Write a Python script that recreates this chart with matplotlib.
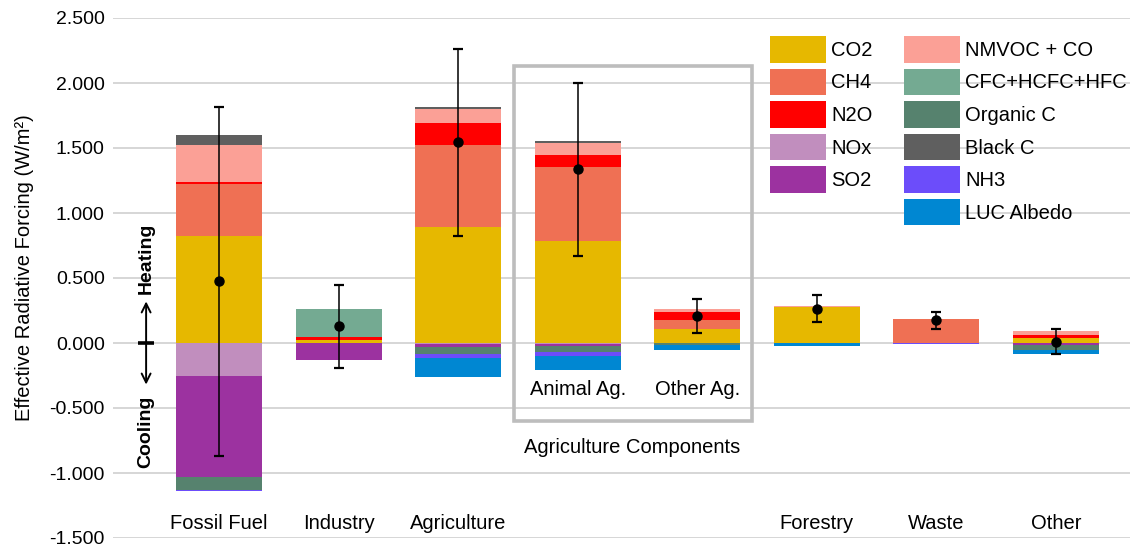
import numpy as np
import matplotlib
matplotlib.use('Agg')
import matplotlib.pyplot as plt
from matplotlib.patches import Patch, Rectangle

plt.rcParams['font.family'] = ['Liberation Sans', 'DejaVu Sans']

# sectors (Animal Ag. and Other Ag. are the split of Agriculture)
categories = ['Fossil Fuel', 'Industry', 'Agriculture', 'Animal Ag.',
              'Other Ag.', 'Forestry', 'Waste', 'Other']

# effective radiative forcing by species, W/m2
co2 = [0.825, 0.023, 0.892, 0.788, 0.109, 0.277, 0.0, 0.037]
ch4 = [0.398, 0.0, 0.631, 0.564, 0.066, 0.0, 0.181, 0.0]
n2o = [0.012, 0.020, 0.167, 0.098, 0.067, 0.0, 0.0, 0.021]
nmvoc = [0.287, 0.005, 0.108, 0.090, 0.023, 0.010, 0.004, 0.033]
cfc = [0.0, 0.214, 0.0, 0.0, 0.0, 0.0, 0.0, 0.0]
black_c = [0.079, 0.0, 0.015, 0.012, 0.0, 0.0, 0.0, 0.005]
nox = [-0.254, 0.0, -0.010, -0.008, 0.0, 0.0, 0.0, 0.0]
so2 = [-0.775, -0.134, -0.017, -0.012, 0.0, 0.0, 0.0, -0.015]
organic_c = [-0.102, 0.0, -0.058, -0.050, -0.012, 0.0, 0.0, -0.042]
nh3 = [-0.008, 0.0, -0.028, -0.031, 0.0, 0.0, -0.004, 0.0]
luc_albedo = [0.0, 0.0, -0.148, -0.110, -0.042, -0.020, 0.0, -0.025]

# net forcing with uncertainty range
net = [0.475, 0.128, 1.548, 1.342, 0.210, 0.265, 0.178, 0.009]
net_low = [-0.867, -0.190, 0.825, 0.673, 0.075, 0.165, 0.110, -0.086]
net_high = [1.815, 0.448, 2.262, 2.000, 0.337, 0.366, 0.242, 0.106]

yticks = [-1.5, -1.0, -0.5, 0.0, 0.5, 1.0, 1.5, 2.0, 2.5]

colors = {
    'CO2': '#E6B800', 'CH4': '#EF7054', 'N2O': '#FF0000',
    'NOx': '#C18EBE', 'SO2': '#9C32A0', 'NMVOC + CO': '#FBA096',
    'CFC+HCFC+HFC': '#74AA92', 'Organic C': '#56826E',
    'Black C': '#5F5F5F', 'NH3': '#6C4DFA', 'LUC Albedo': '#0087D2',
}

positive = [('CO2', co2), ('CH4', ch4), ('N2O', n2o), ('NMVOC + CO', nmvoc),
            ('CFC+HCFC+HFC', cfc), ('Black C', black_c)]
negative = [('NOx', nox), ('SO2', so2), ('Organic C', organic_c),
            ('NH3', nh3), ('LUC Albedo', luc_albedo)]

fig = plt.figure(figsize=(11.34, 5.47), dpi=100)
ax = fig.add_axes([113 / 1134, 9 / 547, 1017 / 1134, 520 / 547])

x = np.arange(len(categories))
w = 0.72

bottom = np.zeros(len(x))
for name, vals in positive:
    vals = np.array(vals)
    ax.bar(x, vals, w, bottom=bottom, color=colors[name], zorder=2)
    bottom += vals
bottom = np.zeros(len(x))
for name, vals in negative:
    vals = np.array(vals)
    ax.bar(x, vals, w, bottom=bottom, color=colors[name], zorder=2)
    bottom += vals

net = np.array(net)
err = [net - np.array(net_low), np.array(net_high) - net]
ax.errorbar(x, net, yerr=err, fmt='o', color='black', ms=6.5,
            elinewidth=1.1, capsize=3.5, capthick=1.6, zorder=5)

ax.set_ylim(-1.5, 2.5)
ax.set_xlim(-0.887, 7.62)
ax.set_yticks(yticks)
ax.set_yticklabels([f'{v:.3f}' for v in yticks], fontsize=14)
ax.tick_params(axis='y', length=0, pad=6)
ax.set_xticks([])
ax.yaxis.grid(True, color='#CFCFCF', lw=1.2, zorder=0)
ax.set_axisbelow(True)
for s in ax.spines.values():
    s.set_visible(False)

ax.set_ylabel('Effective Radiative Forcing (W/m²)', fontsize=14.5)
ax.yaxis.set_label_coords(-0.078, 0.52)

# sector labels
for i, lab in enumerate(categories):
    if i in (3, 4):
        ax.text(i, -0.36, lab, ha='center', va='center', fontsize=14.5)
    else:
        ax.text(i, -1.392, lab, ha='center', va='center', fontsize=14.5)

# box around the agriculture split
ax.add_patch(Rectangle((2.469, -0.602), 4.46 - 2.469, 2.134 + 0.602,
                       fill=False, edgecolor='#BDBDBD', lw=2.6, zorder=4))
ax.text(3.456, -0.805, 'Agriculture Components', ha='center', va='center',
        fontsize=14.5)

# heating / cooling marker
xa = -0.61
ax.annotate('', xy=(xa, 0.32), xytext=(xa, -0.32),
            arrowprops=dict(arrowstyle='<->', color='black', lw=1.4,
                            mutation_scale=16, shrinkA=0, shrinkB=0),
            annotation_clip=False)
ax.plot([xa - 0.066, xa + 0.066], [0, 0], color='black', lw=2.6,
        solid_capstyle='butt', clip_on=False, zorder=6)
ax.text(xa, 0.65, 'Heating', rotation=90, ha='center', va='center',
        fontsize=14, fontweight='bold')
ax.text(xa, -0.68, 'Cooling', rotation=90, ha='center', va='center',
        fontsize=14, fontweight='bold')

# legend, two columns with a blank slot under SO2
order = ['CO2', 'CH4', 'N2O', 'NOx', 'SO2', None,
         'NMVOC + CO', 'CFC+HCFC+HFC', 'Organic C', 'Black C', 'NH3',
         'LUC Albedo']
handles = []
for name in order:
    if name is None:
        handles.append(Patch(facecolor='none', edgecolor='none', label=' '))
    else:
        handles.append(Patch(facecolor=colors[name], label=name))
ax.legend(handles=handles, ncol=2, frameon=False, fontsize=14.5,
          loc='upper left', bbox_to_anchor=(770 / 1134, 1 - 36 / 547),
          bbox_transform=fig.transFigure, borderpad=0, borderaxespad=0,
          handlelength=2.8, handleheight=1.65, handletextpad=0.25,
          labelspacing=0.3, columnspacing=1.55)

plt.savefig('out.png', dpi=100)
